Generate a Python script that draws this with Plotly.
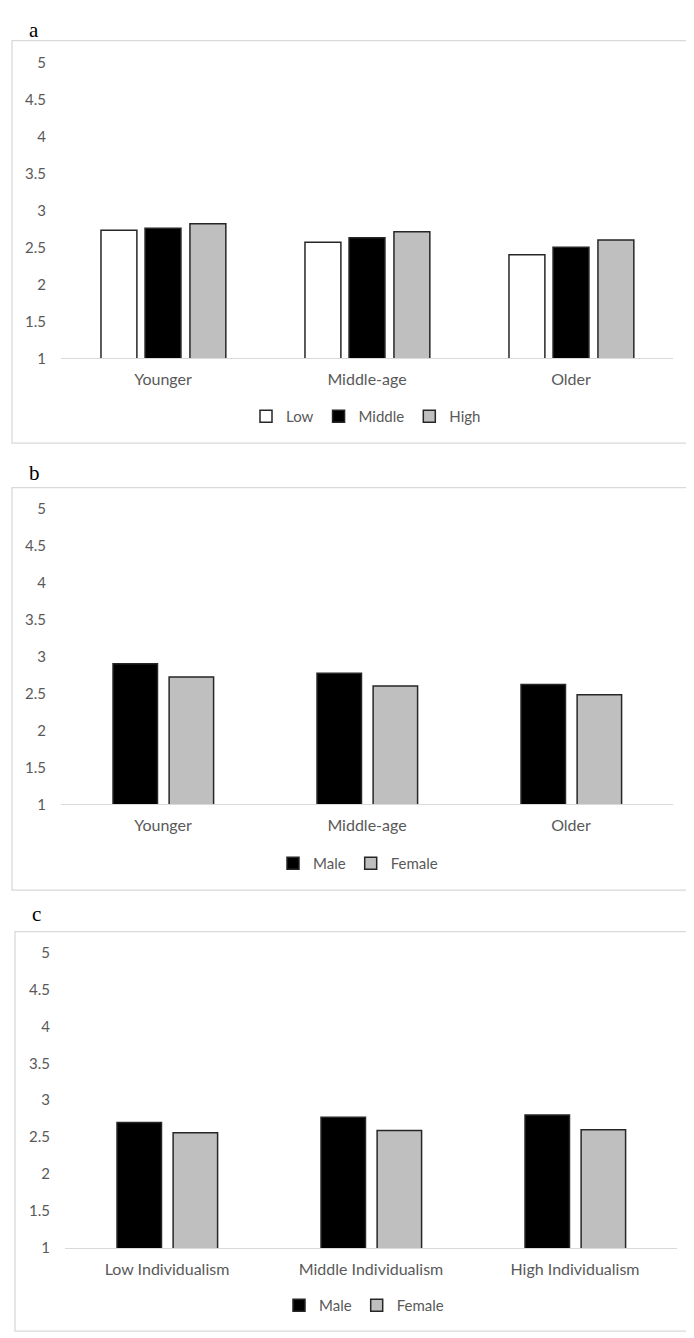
import plotly.graph_objects as go

# ---------------- data ----------------
age_groups = ["Younger", "Middle-age", "Older"]
a_low = [2.73, 2.57, 2.40]
a_middle = [2.76, 2.63, 2.50]
a_high = [2.82, 2.71, 2.60]

b_male = [2.90, 2.77, 2.62]
b_female = [2.72, 2.60, 2.48]

indiv_groups = ["Low Individualism", "Middle Individualism", "High Individualism"]
c_male = [2.70, 2.77, 2.80]
c_female = [2.56, 2.59, 2.60]

y_ticks = [1, 1.5, 2, 2.5, 3, 3.5, 4, 4.5, 5]

# ---------------- layout helpers ----------------
W, H = 694, 1338
def px(x):
    return x / W
def py(y):
    return 1 - y / H

FONT = "Lato"
TICKCOL = "#595959"
OUTLINE = "#262626"
WHITE = "#ffffff"
BLACK = "#000000"
GRAY = "#bfbfbf"

fig = go.Figure()

# panel a
fig.add_trace(go.Bar(x=age_groups, y=a_low, name="Low", width=0.176, offset=-0.304,
                     marker=dict(color=WHITE, line=dict(color=OUTLINE, width=1.5)),
                     xaxis="x", yaxis="y", legend="legend"))
fig.add_trace(go.Bar(x=age_groups, y=a_middle, name="Middle", width=0.176, offset=-0.088,
                     marker=dict(color=BLACK, line=dict(color=OUTLINE, width=1.5)),
                     xaxis="x", yaxis="y", legend="legend"))
fig.add_trace(go.Bar(x=age_groups, y=a_high, name="High", width=0.176, offset=0.132,
                     marker=dict(color=GRAY, line=dict(color=OUTLINE, width=1.5)),
                     xaxis="x", yaxis="y", legend="legend"))

# panel b
fig.add_trace(go.Bar(x=age_groups, y=b_male, name="Male", width=0.218, offset=-0.245,
                     marker=dict(color=BLACK, line=dict(color=OUTLINE, width=1.5)),
                     xaxis="x2", yaxis="y2", legend="legend2"))
fig.add_trace(go.Bar(x=age_groups, y=b_female, name="Female", width=0.218, offset=0.03,
                     marker=dict(color=GRAY, line=dict(color=OUTLINE, width=1.5)),
                     xaxis="x2", yaxis="y2", legend="legend2"))

# panel c
fig.add_trace(go.Bar(x=indiv_groups, y=c_male, name="Male", width=0.218, offset=-0.245,
                     marker=dict(color=BLACK, line=dict(color=OUTLINE, width=1.5)),
                     xaxis="x3", yaxis="y3", legend="legend3"))
fig.add_trace(go.Bar(x=indiv_groups, y=c_female, name="Female", width=0.218, offset=0.03,
                     marker=dict(color=GRAY, line=dict(color=OUTLINE, width=1.5)),
                     xaxis="x3", yaxis="y3", legend="legend3"))

panels = [
    # (xaxis key, yaxis key, x0, x1, ytop, ybottom)
    ("xaxis", "yaxis", 53, 665, 45, 345),
    ("xaxis2", "yaxis2", 53, 665, 497, 797),
    ("xaxis3", "yaxis3", 57, 669, 947, 1247),
]

layout = {}
for i, (xk, yk, x0, x1, yt, yb) in enumerate(panels):
    anchor_y = "y" if i == 0 else f"y{i+1}"
    anchor_x = "x" if i == 0 else f"x{i+1}"
    layout[xk] = dict(domain=[px(x0), px(x1)], anchor=anchor_y, range=[-0.5, 2.5],
                      showline=True, linecolor="#d9d9d9", linewidth=1.3,
                      showgrid=False, zeroline=False, ticks="",
                      ticklabelstandoff=6,
                      tickfont=dict(family=FONT, size=16, color=TICKCOL),
                      fixedrange=True)
    layout[yk] = dict(domain=[py(yb), py(yt)], anchor=anchor_x, range=[1, 5],
                      tickvals=y_ticks, ticktext=[f"{v:g}" for v in y_ticks],
                      showline=False, showgrid=False, zeroline=False, ticks="",
                      ticklabelstandoff=14,
                      tickfont=dict(family=FONT, size=15, color=TICKCOL),
                      fixedrange=True)

leg_common = dict(orientation="h", xanchor="center", yanchor="middle",
                  font=dict(family=FONT, size=15, color=TICKCOL),
                  bgcolor="rgba(0,0,0,0)", itemwidth=30, tracegroupgap=0)
layout["legend"] = dict(x=px(358), y=py(404), **leg_common)
layout["legend2"] = dict(x=px(350), y=py(857), **leg_common)
layout["legend3"] = dict(x=px(356), y=py(1305), **leg_common)

boxes = [(4, 687, 23, 431), (4, 687, 476, 884), (7, 690, 926, 1331)]
shapes = [dict(type="rect", xref="paper", yref="paper",
               x0=px(a), x1=px(b), y0=py(d), y1=py(c),
               line=dict(color="#d9d9d9", width=1.3), fillcolor="rgba(0,0,0,0)",
               layer="below") for a, b, c, d in boxes]

letters = [("a", 26, 12), ("b", 26, 461), ("c", 28, 908)]
annotations = [dict(text=t, x=px(x), y=py(y), xref="paper", yref="paper",
                    showarrow=False, xanchor="center", yanchor="middle",
                    font=dict(family="Liberation Serif", size=21, color="#000000"))
               for t, x, y in letters]

fig.update_layout(
    width=W, height=H,
    margin=dict(l=0, r=0, t=0, b=0),
    paper_bgcolor="white", plot_bgcolor="white",
    barmode="group",
    showlegend=True,
    shapes=shapes,
    annotations=annotations,
    **layout,
)

fig.write_html("out.html")
